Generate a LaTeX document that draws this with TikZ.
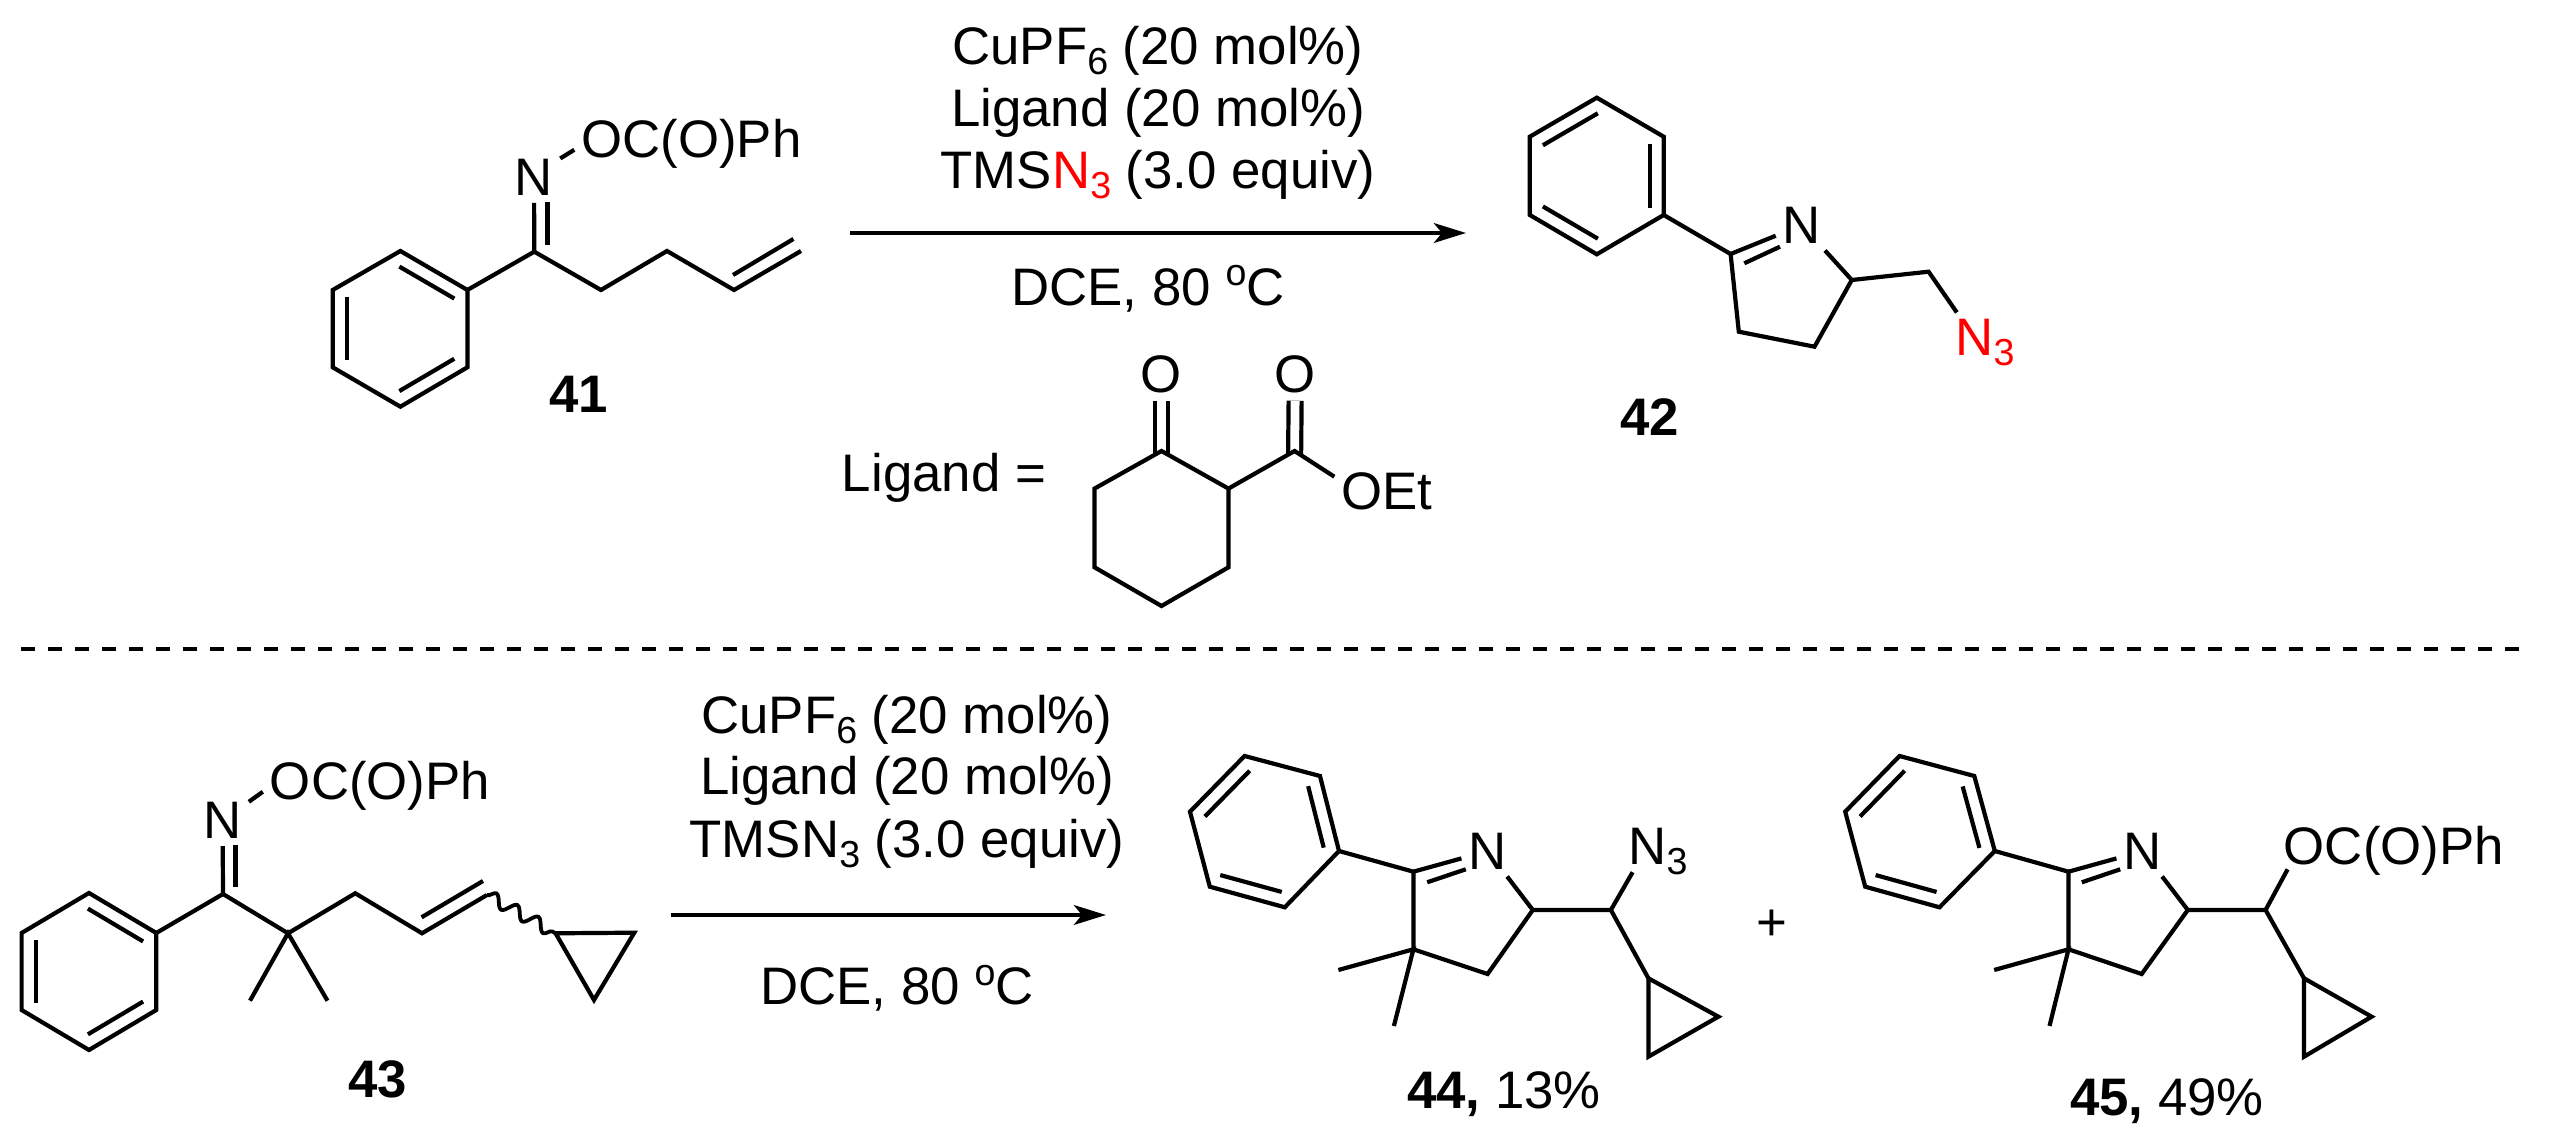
\documentclass[tikz,border=0pt]{standalone}
\usepackage{fontspec}
\setmainfont{Liberation Sans}
\usepackage{xcolor}
\usetikzlibrary{arrows.meta, calc, decorations.pathmorphing}

\newcommand{\chemfont}{\fontsize{13.2}{15}\selectfont}
\newcommand{\lowfig}[1]{\raisebox{-2.5pt}[0pt][0pt]{\fontsize{9.4}{10}\selectfont #1}}
\newcommand{\higho}{\raisebox{5pt}{\fontsize{9.4}{10}\selectfont o}}
% second line of a ring double bond, rings run clockwise
\newcommand{\inbond}[2]{\draw[bond] ($(#1)!0.09!(#2)!3.5pt!-90:(#2)$) -- ($(#2)!0.09!(#1)!3.5pt!90:(#1)$);}

\begin{document}
\begin{tikzpicture}[
    x=0.25pt, y=-0.25pt,
    bond/.style={line width=1.05pt},
    dblbond/.style={bond,double,double distance=2.2pt},
    wavy/.style={line width=0.95pt,decorate,decoration={snake,segment length=6pt,amplitude=1.5pt}},
    rxnarrow/.style={line width=1.15pt,-{Stealth[length=8pt,width=4.9pt,inset=2pt]}},
    divider/.style={line width=1.1pt,dash pattern=on 3.5pt off 3.25pt},
    lbl/.style={inner sep=1.6pt,anchor=base,font=\chemfont}
]
\useasboundingbox (0,0) rectangle (2553,1143);

% Top row - compound 41
\foreach \i/\x/\y in {0/400.4/251,1/467.4/290,2/467.4/367.3,3/400.4/406.7,4/332.7/367.3,5/332.7/290} {
    \coordinate (ph41\i) at (\x,\y);
}
\coordinate (c41a) at (534.3,251.7);
\coordinate (c41b) at (601,290);
\coordinate (c41c) at (667,251);
\coordinate (c41d) at (734,290);
\coordinate (c41e) at (801,251);
\coordinate (i41a) at (733,275);
\coordinate (i41b) at (793.4,239);
\coordinate (i41c) at (547.4,245);
\coordinate (i41d) at (547.4,202.3);
\node[lbl] (n41) at (534,195.7) {N};
\node[lbl] (oc41) at (691.5,157.3) {OC(O)Ph};
\node[lbl] (num41) at (579,412.7) {\textbf{41}};
\draw[bond] (ph410) -- (ph411) -- (ph412) -- (ph413) -- (ph414) -- (ph415) -- cycle;
\inbond{ph410}{ph411}
\inbond{ph412}{ph413}
\inbond{ph414}{ph415}
\draw[bond] (ph411) -- (c41a) -- (c41b) -- (c41c) -- (c41d) -- (c41e);
\draw[bond] (i41a) -- (i41b);
\draw[bond] (c41a) -- (n41);
\draw[bond] (i41c) -- (i41d);
\draw[bond] (n41.36) -- (oc41.183);

% Arrow and conditions
\node[lbl] (cat1) at (1158,64.5) {CuPF\lowfig{6} (20 mol\%)};
\node[lbl] (lig1) at (1158,126.5) {Ligand (20 mol\%)};
\node[lbl] (azi1) at (1158,188.6) {TMS{\color{red}N\lowfig{3}} (3.0 equiv)};
\node[lbl] (sol1) at (1148,306) {DCE, 80 \higho C};
\coordinate (arr1a) at (850,233);
\coordinate (arr1b) at (1466,233);
\draw[rxnarrow] (arr1a) -- (arr1b);

% Ligand
\node[lbl] (ligeq) at (944,492) {Ligand =};
\foreach \i/\x/\y in {0/1161.5/451,1/1228.5/488.6,2/1228.5/567.3,3/1161.5/606,4/1094.5/567.3,5/1094.5/488.6} {
    \coordinate (cy\i) at (\x,\y);
}
\coordinate (est) at (1294.6,451);
\coordinate (kbase) at (1161.5,454);
\coordinate (ebase) at (1294.6,454);
\node[lbl] (oket) at (1161.5,393) {O};
\node[lbl] (oest) at (1295.4,393) {O};
\node[lbl] (oet) at (1387,510) {OEt};
\draw[dblbond] (kbase) -- (oket);
\draw[dblbond] (ebase) -- (oest);
\draw[bond] (cy0) -- (cy1) -- (cy2) -- (cy3) -- (cy4) -- (cy5) -- cycle;
\draw[bond] (cy1) -- (est) -- (oet.164);

% Compound 42
\foreach \i/\x/\y in {0/1596.8/97.7,1/1663.7/136.7,2/1663.7/215,3/1596.8/254.3,4/1529.8/215,5/1529.8/136.7} {
    \coordinate (ph42\i) at (\x,\y);
}
\coordinate (c42a) at (1730.6,254);
\coordinate (c42b) at (1851.8,280);
\coordinate (c42c) at (1814.5,346.7);
\coordinate (c42d) at (1738.8,331.7);
\coordinate (c42e) at (1928.6,271.7);
\coordinate (i42a) at (1744.3,263.3);
\coordinate (i42b) at (1780,246.7);
\node[lbl] (n42) at (1802,243.3) {N};
\node[lbl,text=red] (az42) at (1985,356) {N\lowfig{3}};
\node[lbl] (num42) at (1650,435.7) {\textbf{42}};
\draw[bond] (ph420) -- (ph421) -- (ph422) -- (ph423) -- (ph424) -- (ph425) -- cycle;
\inbond{ph425}{ph420}
\inbond{ph421}{ph422}
\inbond{ph423}{ph424}
\draw[bond] (ph422) -- (c42a) -- (c42d) -- (c42c) -- (c42b) -- (c42e) -- (az42.138);
\draw[bond] (c42a) -- (n42);
\draw[bond] (i42a) -- (i42b);
\draw[bond] (n42) -- (c42b);

% Dashed line between the rows
\coordinate (sepa) at (21,649);
\coordinate (sepb) at (2520,649);
\draw[divider] (sepa) -- (sepb);

% Bottom row - compound 43
\foreach \i/\x/\y in {0/89/893,1/156.3/933,2/156.3/1010,3/89/1050,4/21.6/1010,5/21.6/933} {
    \coordinate (ph43\i) at (\x,\y);
}
\coordinate (c43a) at (223,894);
\coordinate (c43b) at (288,933.3);
\coordinate (c43c) at (355.3,893.3);
\coordinate (c43d) at (422,933.3);
\coordinate (c43e) at (487,895);
\coordinate (me43a) at (250,1000.7);
\coordinate (me43b) at (327.5,1000.7);
\coordinate (i43a) at (421.6,917.3);
\coordinate (i43b) at (483,881);
\coordinate (i43c) at (235.5,886.7);
\coordinate (i43d) at (235.5,845);
\coordinate (cp43a) at (555.6,933.3);
\coordinate (cp43b) at (634.3,932.7);
\coordinate (cp43c) at (594,1000);
\node[lbl] (n43) at (222.6,839) {N};
\node[lbl] (oc43) at (380,799.3) {OC(O)Ph};
\node[lbl] (num43) at (378,1098) {\textbf{43}};
\draw[bond] (ph430) -- (ph431) -- (ph432) -- (ph433) -- (ph434) -- (ph435) -- cycle;
\inbond{ph430}{ph431}
\inbond{ph432}{ph433}
\inbond{ph434}{ph435}
\draw[bond] (ph431) -- (c43a) -- (c43b) -- (c43c) -- (c43d) -- (c43e);
\draw[bond] (me43a) -- (c43b) -- (me43b);
\draw[bond] (i43a) -- (i43b);
\draw[bond] (c43a) -- (n43);
\draw[bond] (i43c) -- (i43d);
\draw[bond] (n43.36) -- (oc43.183);
\draw[wavy] (c43e) -- (cp43a);
\draw[bond] (cp43a) -- (cp43b) -- (cp43c) -- cycle;

% Arrow and conditions
\node[lbl] (cat2) at (907,733.3) {CuPF\lowfig{6} (20 mol\%)};
\node[lbl] (lig2) at (907,795) {Ligand (20 mol\%)};
\node[lbl] (azi2) at (907,857.7) {TMSN\lowfig{3} (3.0 equiv)};
\node[lbl] (sol2) at (897,1005) {DCE, 80 \higho C};
\coordinate (arr2a) at (671,915);
\coordinate (arr2b) at (1106,915);
\draw[rxnarrow] (arr2a) -- (arr2b);

% Compound 44
\foreach \i/\x/\y in {0/1244.6/756,1/1320/776,2/1339/851,3/1284.8/907.3,4/1209.8/886.7,5/1190/811.7} {
    \coordinate (ph44\i) at (\x,\y);
}
\coordinate (c44a) at (1413.4,871.7);
\coordinate (c44b) at (1413.4,949.3);
\coordinate (c44c) at (1487.6,974);
\coordinate (c44d) at (1532.8,910);
\coordinate (c44e) at (1610.9,910);
\coordinate (me44a) at (1338.4,970);
\coordinate (me44b) at (1393.9,1026);
\coordinate (i44a) at (1427.2,882.3);
\coordinate (i44b) at (1465.8,869.3);
\coordinate (cp44a) at (1648.4,978.3);
\coordinate (cp44b) at (1718.4,1016.7);
\coordinate (cp44c) at (1648.4,1056.7);
\node[lbl] (n44) at (1487.7,869.3) {N};
\node[lbl] (az44) at (1658,865) {N\lowfig{3}};
\node[lbl] (num44) at (1504,1108.3) {\textbf{44,} 13\%};
\draw[bond] (ph440) -- (ph441) -- (ph442) -- (ph443) -- (ph444) -- (ph445) -- cycle;
\inbond{ph445}{ph440}
\inbond{ph441}{ph442}
\inbond{ph443}{ph444}
\draw[bond] (ph442) -- (c44a) -- (c44b) -- (c44c) -- (c44d) -- (c44e) -- (cp44a);
\draw[bond] (me44a) -- (c44b) -- (me44b);
\draw[bond] (c44a) -- (n44);
\draw[bond] (i44a) -- (i44b);
\draw[bond] (n44) -- (c44d);
\draw[bond] (c44e) -- (az44.225);
\draw[bond] (cp44a) -- (cp44b) -- (cp44c) -- cycle;

\node[lbl,anchor=center] (plus) at (1772,925) {+};

% Compound 45
\foreach \i/\x/\y in {0/1899.5/756,1/1974.3/776,2/1994.8/851,3/1939.5/907.3,4/1865.2/886.7,5/1845.2/811.7} {
    \coordinate (ph45\i) at (\x,\y);
}
\coordinate (c45a) at (2068.5,871.7);
\coordinate (c45b) at (2068.5,949.3);
\coordinate (c45c) at (2141.7,974);
\coordinate (c45d) at (2187.8,910);
\coordinate (c45e) at (2265.6,910);
\coordinate (me45a) at (1994.2,970);
\coordinate (me45b) at (2049.5,1026);
\coordinate (i45a) at (2081.8,882.3);
\coordinate (i45b) at (2120.2,869.3);
\coordinate (cp45a) at (2304,978.3);
\coordinate (cp45b) at (2371.6,1016.7);
\coordinate (cp45c) at (2304,1056.7);
\coordinate (o45) at (2287.6,869.3);
\node[lbl] (n45) at (2142.7,869.3) {N};
\node[lbl] (oc45) at (2393.8,864.3) {OC(O)Ph};
\node[lbl] (num45) at (2167,1115.7) {\textbf{45,} 49\%};
\draw[bond] (ph450) -- (ph451) -- (ph452) -- (ph453) -- (ph454) -- (ph455) -- cycle;
\inbond{ph455}{ph450}
\inbond{ph451}{ph452}
\inbond{ph453}{ph454}
\draw[bond] (ph452) -- (c45a) -- (c45b) -- (c45c) -- (c45d) -- (c45e) -- (cp45a);
\draw[bond] (me45a) -- (c45b) -- (me45b);
\draw[bond] (c45a) -- (n45);
\draw[bond] (i45a) -- (i45b);
\draw[bond] (n45) -- (c45d);
\draw[bond] (c45e) -- (o45);
\draw[bond] (cp45a) -- (cp45b) -- (cp45c) -- cycle;

\end{tikzpicture}
\end{document}
